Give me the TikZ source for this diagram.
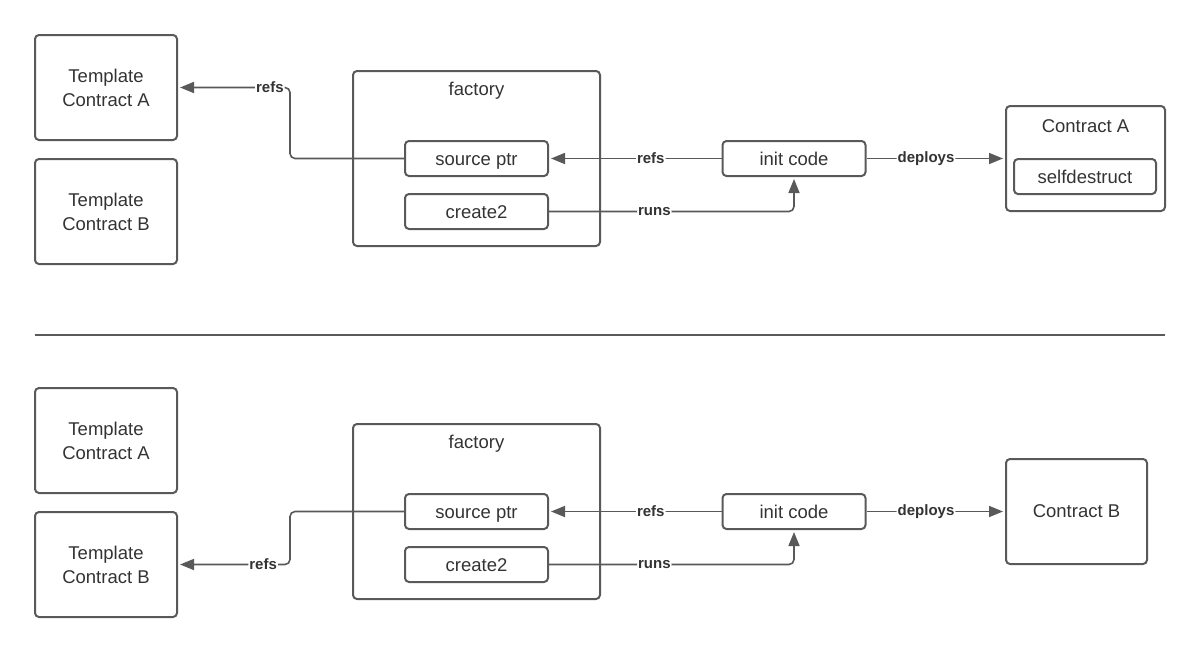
\documentclass[tikz,border=0pt]{standalone}
\usepackage{fontspec}
\setmainfont{Liberation Sans}
\usetikzlibrary{positioning,arrows.meta}
\definecolor{linegray}{RGB}{89,89,89}
\definecolor{textgray}{RGB}{51,51,51}
\tikzset{%
  block/.style={draw=linegray, line width=2pt, rounded corners=4pt, inner sep=0pt,
    align=center, text=textgray, font=\fontsize{18.5}{24}\selectfont},% any box
  template/.style={block, minimum width=142pt, minimum height=105pt},% template contracts
  part/.style={block, minimum width=143pt, minimum height=35pt,
    text height=14pt, text depth=1pt},% small inner boxes
  frame/.style={block, minimum width=247pt, minimum height=175pt},% factory box
  caption/.style={text=textgray, inner sep=0pt, font=\fontsize{18.5}{24}\selectfont},% box titles
  link/.style={draw=linegray, line width=1.6pt, rounded corners=5pt, shorten >=2pt,
    -{Triangle[length=14pt,width=11pt]}},% connectors
  tag/.style={fill=white, inner sep=1pt, text=textgray,
    font=\fontsize{15}{17}\bfseries\selectfont}% connector labels
}
\begin{document}
\begin{tikzpicture}[x=1pt, y=-1pt]
\useasboundingbox (0,0) rectangle (1200,653);

% upper case: template A
\node[template] (tA1) at (106,87.5) {Template\\Contract A};
\node[template] (tB1) at (106,211.5) {Template\\Contract B};
\node[frame] (fac1) at (476.5,158.5) {};
\node[caption] (facl1) at (476.5,91) {factory};
\node[part] (sp1) at (476.5,158.5) {source ptr};
\node[part] (cr1) at (476.5,211.5) {create2};
\node[part] (ic1) at (794,158.5) {init code};
\node[block, minimum width=159pt, minimum height=105pt] (cA) at (1085.5,158.5) {};
\node[caption] (cAl) at (1085.5,126) {Contract A};
\node[part, minimum width=142pt] (sd) at (1085,176.5) {selfdestruct};

\draw[link] (ic1.west) -- node[tag, pos=0.41] {refs} (sp1.east);
\draw[link] (cr1.east) -| node[tag, pos=0.215] {runs} (ic1.south);
\draw[link] (ic1.east) -- node[tag, pos=0.43] {deploys} (cA.west);
\draw[link] (sp1.west) -- ++(-114,0) |- node[tag, pos=0.59] {refs} (tA1.east);

% separator
\draw[linegray, line width=1.5pt] (35,335) -- (1165,335);

% lower case: template B
\node[template] (tA2) at (106,440.5) {Template\\Contract A};
\node[template] (tB2) at (106,564.5) {Template\\Contract B};
\node[frame] (fac2) at (476.5,511.5) {};
\node[caption] (facl2) at (476.5,444) {factory};
\node[part] (sp2) at (476.5,511.5) {source ptr};
\node[part] (cr2) at (476.5,564.5) {create2};
\node[part] (ic2) at (794,511.5) {init code};
\node[block, minimum width=141pt, minimum height=105pt] (cB) at (1076.5,511.5) {Contract B};

\draw[link] (ic2.west) -- node[tag, pos=0.41] {refs} (sp2.east);
\draw[link] (cr2.east) -| node[tag, pos=0.215] {runs} (ic2.south);
\draw[link] (ic2.east) -- node[tag, pos=0.43] {deploys} (cB.west);
\draw[link] (sp2.west) -- ++(-114,0) |- node[tag, pos=0.62] {refs} (tB2.east);

\end{tikzpicture}
\end{document}
